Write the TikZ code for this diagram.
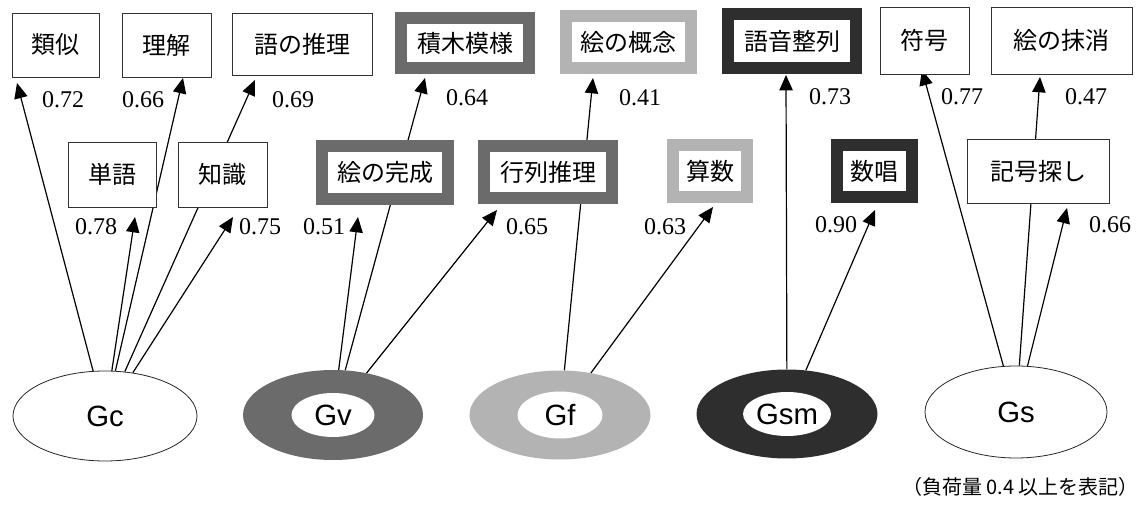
\documentclass[tikz,border=0pt]{standalone}
\usepackage{fontspec}
\setmainfont{Liberation Serif}
\newfontfamily\jp{Noto Sans CJK JP}
\newfontfamily\gsans{Liberation Sans}
\usetikzlibrary{arrows.meta,shapes.geometric}
\definecolor{dk}{HTML}{6B6B6B}
\definecolor{lt}{HTML}{B3B3B3}
\definecolor{vd}{HTML}{2E2E2E}
\begin{document}
\begin{tikzpicture}[x=0.75pt,y=-0.75pt,
  pbox/.style 2 args={draw=black!80, line width=0.6pt, fill=white,
    minimum width=#1*0.75pt, minimum height=#2*0.75pt, inner sep=0pt,
    font=\jp\fontsize{18}{20}\selectfont},
  tbox/.style n args={3}{draw=#3, line width=9pt, fill=white,
    minimum width=(#1-12)*0.75pt, minimum height=(#2-12)*0.75pt, inner sep=0pt,
    font=\jp\fontsize{18}{20}\selectfont},
  ell/.style 2 args={ellipse, draw=black!85, line width=0.6pt, fill=white,
    minimum width=#1*0.75pt, minimum height=#2*0.75pt, inner sep=0pt,
    font=\gsans\fontsize{22}{24}\selectfont},
  ring/.style n args={3}{ellipse, fill=#3, draw=none,
    minimum width=#1*0.75pt, minimum height=#2*0.75pt, inner sep=0pt},
  hole/.style 2 args={ellipse, fill=white, draw=none,
    minimum width=#1*0.75pt, minimum height=#2*0.75pt, inner sep=0pt,
    font=\gsans\fontsize{22}{24}\selectfont},
  num/.style={inner sep=0pt, font=\fontsize{18}{20}\selectfont},
  arr/.style={-{Triangle[length=11.5pt,width=10pt]}, line width=0.9pt},
]
\useasboundingbox (0,0) rectangle (1140,513);

% factor ellipses
\node[ell={184}{90}] (Gc) at (105,416) {Gc};
\node[ring={180}{90}{dk}] (Gv) at (333,415) {};
\node[hole={83}{44}] (Gvi) at (333,415) {Gv};
\node[ring={181}{89}{lt}] (Gf) at (560,415) {};
\node[hole={85}{47}] (Gfi) at (560,415) {Gf};
\node[ring={181}{89}{vd}] (Gsm) at (787,414) {};
\node[hole={88}{44}] (Gsmi) at (787,414) {Gsm};
\node[ell={182}{92}] (Gs) at (1016,412) {Gs};

% arrow tips
\coordinate (tRuiji) at (17,83);
\coordinate (tRikai) at (183,78);
\coordinate (tGosui) at (255,80);
\coordinate (tTango) at (135,217);
\coordinate (tChishiki) at (233,217);
\coordinate (tKansei) at (358,217);
\coordinate (tTsumiki) at (425,78);
\coordinate (tGyoretsu) at (497,210);
\coordinate (tGainen) at (593,78);
\coordinate (tSansu) at (713,207);
\coordinate (tGoon) at (786,75);
\coordinate (tSushou) at (875,210);
\coordinate (tFugou) at (922,70);
\coordinate (tMasshou) at (1040,77);
\coordinate (tKigou) at (1067,208);

% connectors
\draw[arr] (Gc) -- (tRuiji);
\draw[arr] (Gc) -- (tRikai);
\draw[arr] (Gc) -- (tGosui);
\draw[arr] (Gc) -- (tTango);
\draw[arr] (Gc) -- (tChishiki);
\draw[arr] (Gv) -- (tKansei);
\draw[arr] (Gv) -- (tTsumiki);
\draw[arr] (Gv) -- (tGyoretsu);
\draw[arr] (Gf) -- (tGainen);
\draw[arr] (Gf) -- (tSansu);
\draw[arr] (Gsm) -- (tGoon);
\draw[arr] (Gsm) -- (tSushou);
\draw[arr] (Gs) -- (tFugou);
\draw[arr] (Gs) -- (tMasshou);
\draw[arr] (Gs) -- (tKigou);

% subtest boxes, top row
\node[pbox={87}{64}] (ruiji) at (55.5,45) {類似};
\node[pbox={89}{64}] (rikai) at (166.5,45) {理解};
\node[pbox={140}{62}] (gosui) at (302,44) {語の推理};
\node[tbox={140}{62}{dk}] (tsumiki) at (465,43) {積木模様};
\node[tbox={137}{64}{lt}] (gainen) at (628.5,42) {絵の概念};
\node[tbox={140}{66}{vd}] (goon) at (792,41) {語音整列};
\node[pbox={89}{67}] (fugou) at (924.5,40.5) {符号};
\node[pbox={141}{67}] (masshou) at (1061.5,40.5) {絵の抹消};

% subtest boxes, middle row
\node[pbox={88}{65}] (tango) at (112,174.5) {単語};
\node[pbox={89}{65}] (chishiki) at (222.5,174.5) {知識};
\node[tbox={138}{65}{dk}] (kansei) at (385,172.5) {絵の完成};
\node[tbox={140}{64}{dk}] (gyoretsu) at (548,172) {行列推理};
\node[tbox={86}{64}{lt}] (sansu) at (710,171) {算数};
\node[tbox={87}{64}{vd}] (sushou) at (874.5,171) {数唱};
\node[pbox={142}{64}] (kigou) at (1038,171) {記号探し};

% loadings
\node[num] (l1) at (63,100) {0.72};
\node[num] (l2) at (143,100) {0.66};
\node[num] (l3) at (293,100) {0.69};
\node[num] (l4) at (96,227) {0.78};
\node[num] (l5) at (260,227) {0.75};
\node[num] (l6) at (324,227) {0.51};
\node[num] (l7) at (467,98) {0.64};
\node[num] (l8) at (527,227) {0.65};
\node[num] (l9) at (640,98) {0.41};
\node[num] (l10) at (665,227) {0.63};
\node[num] (l11) at (830,97) {0.73};
\node[num] (l12) at (836,225) {0.90};
\node[num] (l13) at (962,97) {0.77};
\node[num] (l14) at (1086,97) {0.47};
\node[num] (l15) at (1110,225) {0.66};

% caption
\node[anchor=east, inner sep=0pt, font=\jp\fontsize{15}{17}\selectfont] (cap) at (1139,487) {（負荷量 0.4 以上を表記）};
\end{tikzpicture}
\end{document}
